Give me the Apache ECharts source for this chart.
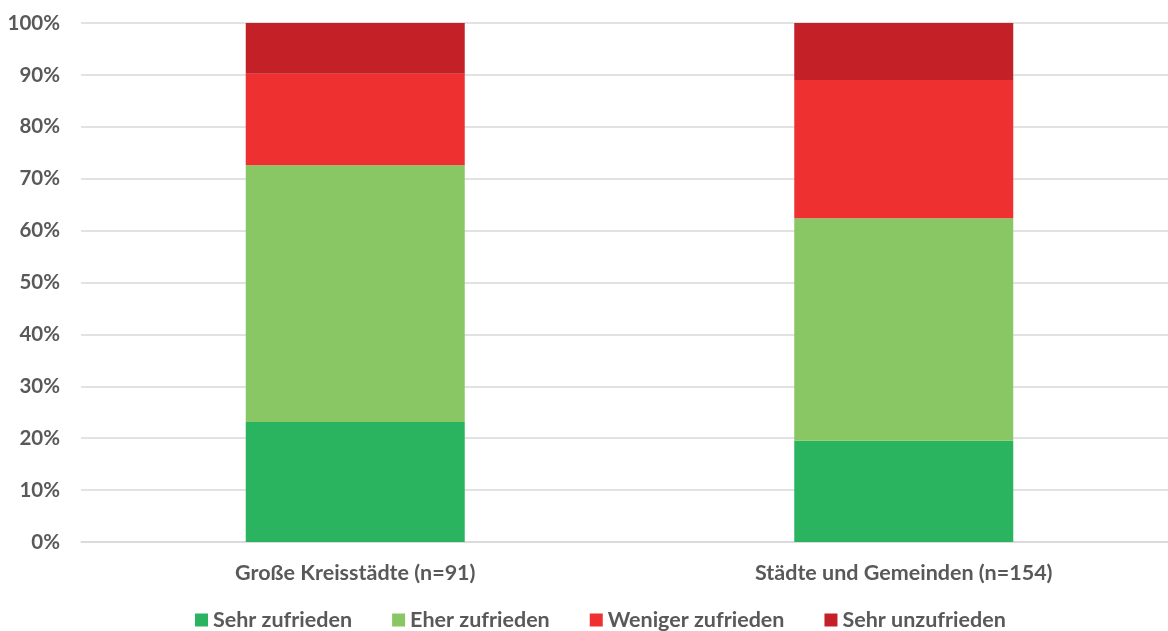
<!DOCTYPE html>
<html>
<head>
<meta charset="utf-8">
<script src="https://cdn.jsdelivr.net/npm/echarts@6/dist/echarts.min.js"></script>
<style>
html,body{margin:0;padding:0;background:#fff;}
#chart{width:1168px;height:631px;}
</style>
</head>
<body>
<div id="chart"></div>
<script>
const categories = ['Große Kreisstädte (n=91)', 'Städte und Gemeinden (n=154)'];
const seriesNames = ['Sehr zufrieden', 'Eher zufrieden', 'Weniger zufrieden', 'Sehr unzufrieden'];
const sehrZufrieden = [23.1, 19.5];
const eherZufrieden = [49.5, 42.9];
const wenigerZufrieden = [17.6, 26.6];
const sehrUnzufrieden = [9.8, 11.0];
const colors = ['#2BB45F', '#89C764', '#EF3030', '#C32127'];
const yTicks = [0, 10, 20, 30, 40, 50, 60, 70, 80, 90, 100];

const values = [sehrZufrieden, eherZufrieden, wenigerZufrieden, sehrUnzufrieden];
const fontFamily = 'Lato, "Open Sans", sans-serif';
const textColor = '#595959';

const chart = echarts.init(document.getElementById('chart'));
chart.setOption({
  animation: false,
  color: colors,
  grid: { left: 81, top: 23, width: 1097, height: 519, containLabel: false, outerBoundsMode: 'none' },
  legend: {
    data: seriesNames,
    left: 195,
    top: 609,
    padding: 0,
    itemWidth: 13,
    itemHeight: 13,
    itemGap: 40,
    icon: 'rect',
    textStyle: { color: textColor, fontSize: 21.5, fontWeight: 'bold', fontFamily: fontFamily }
  },
  xAxis: {
    type: 'category',
    data: categories,
    axisLine: { show: true, lineStyle: { color: '#D9D9D9', width: 1.5 } },
    axisTick: { show: false },
    axisLabel: { color: textColor, fontSize: 21.5, fontWeight: 'bold', fontFamily: fontFamily, margin: 20 }
  },
  yAxis: {
    type: 'value',
    min: yTicks[0],
    max: yTicks[yTicks.length - 1],
    interval: 10,
    axisLine: { show: false },
    axisTick: { show: false },
    splitLine: { lineStyle: { color: '#D9D9D9', width: 1.5 } },
    axisLabel: { color: textColor, fontSize: 20.5, fontWeight: 'bold', fontFamily: fontFamily, margin: 21, formatter: v => v + '%' }
  },
  series: seriesNames.map((name, i) => ({
    name: name,
    type: 'bar',
    stack: 'total',
    barWidth: 219,
    data: values[i],
    itemStyle: { color: colors[i] }
  }))
});
</script>
</body>
</html>
